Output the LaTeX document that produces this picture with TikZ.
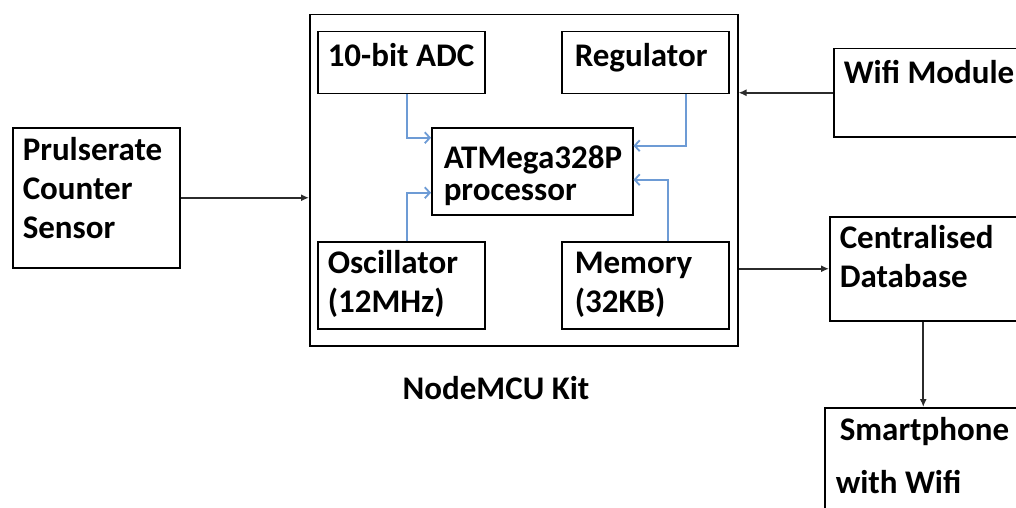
\documentclass[tikz,border=0pt]{standalone}
\usepackage{fontspec}
\setmainfont{Carlito}
\usepackage{tikz}
\usetikzlibrary{arrows.meta,positioning,calc}
\definecolor{linkblue}{HTML}{6D9BD5}
\definecolor{wiregray}{HTML}{2B2B2B}

\begin{document}
\begin{tikzpicture}[
  x=1pt, y=-1pt,
  block/.style n args={4}{draw, line width=1.5pt, anchor=north west, align=flush left, inner ysep=0pt,
    inner xsep=#1, text width=#2, text height=#3, text depth=#4,
    font=\bfseries\fontsize{33}{39}\selectfont},
  arrow/.style={-{Latex[length=8pt,width=7pt]}, line width=1.7pt, wiregray},
  link/.style={-{Straight Barb[length=5pt,width=11pt]}, line width=1.8pt, linkblue}
]
\useasboundingbox (0,0) rectangle (1016,508);

% NodeMCU kit and its parts
\node[draw, line width=1.5pt, anchor=north west, inner sep=0pt, minimum width=428pt, minimum height=331pt] (kit) at (309,14) {};
\node[block={10pt}{147pt}{35pt}{27pt}] (adc) at (317,31) {10-bit~ADC};
\node[block={13pt}{141pt}{35pt}{27pt}] (reg) at (561,31) {Regulator};
\node[block={12pt}{177pt}{41pt}{46pt}] (cpu) at (431,127) {ATMega328P\\[-7pt]processor};
\node[block={10pt}{147pt}{32pt}{55pt}] (osc) at (317,241) {Oscillator\\(12MHz)};
\node[block={13pt}{141pt}{32pt}{55pt}] (mem) at (561,241) {Memory\\(32KB)};
\node[font=\bfseries\fontsize{33}{39}\selectfont, anchor=base] (kitlabel) at (496,399) {NodeMCU Kit};

% outside blocks
\node[block={10pt}{147pt}{33pt}{107pt}] (sensor) at (12,127) {Prulserate\\Counter\\Sensor};
\node[block={10pt}{180pt}{35pt}{53pt}] (wifi) at (833,48) {Wifi~Module};
\node[block={10pt}{180pt}{32pt}{72pt}] (db) at (829,216) {Centralised\\Database};
\node[block={15pt}{180pt}{33pt}{100pt}] (phone) at (824,407) {Smartphone\\[14pt]\hspace*{-4pt}with~Wifi};

\draw[arrow] (sensor.east) -- (sensor.east -| kit.west);
\draw[arrow] (wifi.west) -- (wifi.west -| kit.east);
\draw[arrow] (db.west -| kit.east) -- (db.west);
\draw[arrow] ([xshift=-6.5pt]db.south) -- ([xshift=-6.5pt]db.south |- phone.north);

\draw[link] ([xshift=5.5pt]adc.south) |- ([yshift=33.5pt]cpu.west);
\draw[link] ([xshift=40.5pt]reg.south) |- ([yshift=25.5pt]cpu.east);
\draw[link] ([xshift=5.5pt]osc.north) |- ([yshift=-21.5pt]cpu.west);
\draw[link] ([xshift=22.5pt]mem.north) |- ([yshift=-8.5pt]cpu.east);
\end{tikzpicture}
\end{document}
